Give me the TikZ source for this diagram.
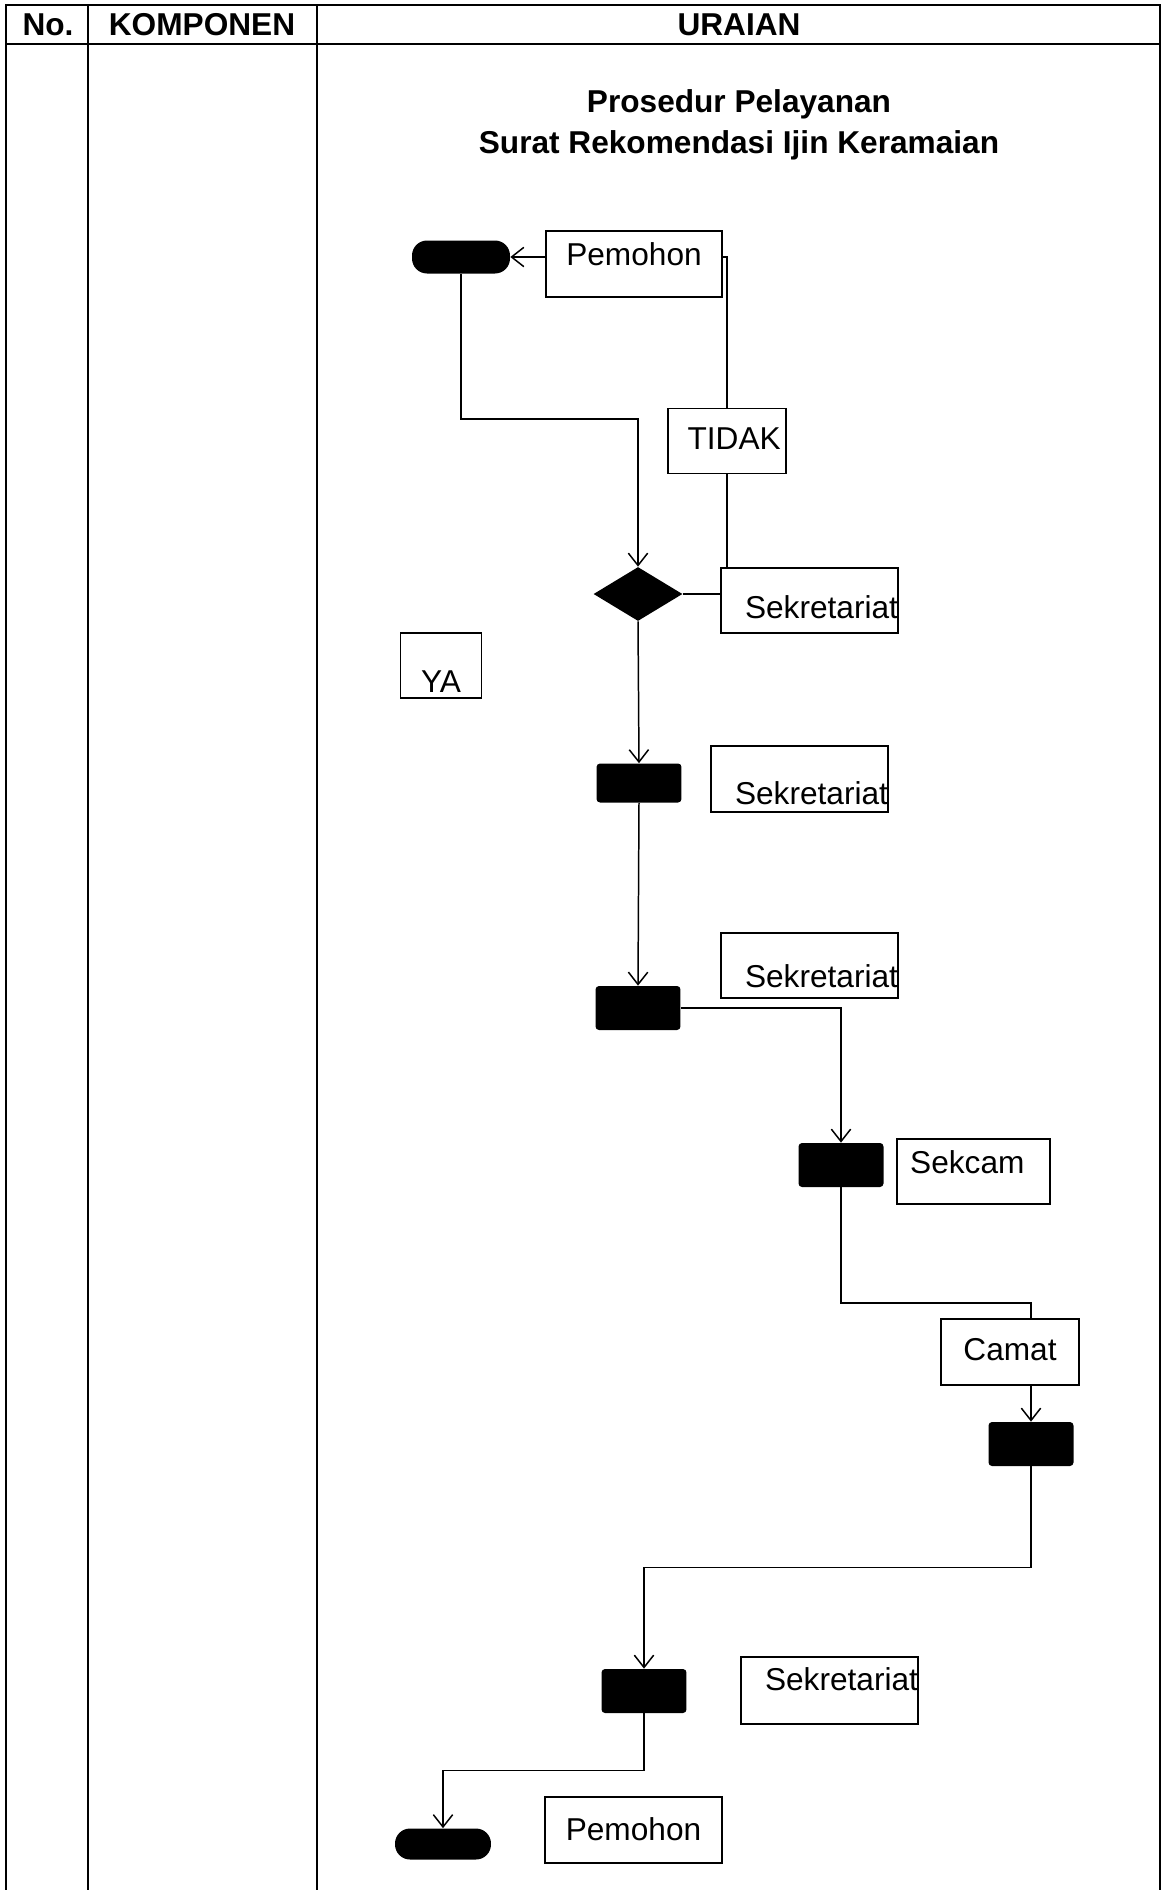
\documentclass[tikz,border=0pt]{standalone}
\usepackage{fontspec}
\setmainfont{Liberation Sans}
\usepackage{tikz}
\usetikzlibrary{positioning,arrows.meta,shapes.geometric,calc}

\tikzset{
    tbl/.style={line width=1.3pt},
    flow/.style={line width=0.85pt},
    role/.style n args={3}{draw,line width=1pt,inner sep=0pt,align=center,
        text width=#1,text height=#2,text depth=#3},
    act/.style={fill=black,rounded corners=2pt,minimum width=1.7cm,minimum height=0.88cm,inner sep=0pt},
    term/.style={fill=black,rounded corners=0.3cm,minimum width=1.96cm,minimum height=0.66cm,inner sep=0pt},
}

\begin{document}
\begin{tikzpicture}[x=0.02cm,y=-0.02cm,>={Straight Barb[length=7pt,width=11pt]},
    font=\fontsize{18}{22}\selectfont]
    \useasboundingbox (0,0) rectangle (1162,1890);

    % tabel
    \draw[tbl] (6,1890) -- (6,5) -- (1160,5) -- (1160,1890);
    \draw[tbl] (6,44) -- (1160,44);
    \draw[tbl] (88,5) -- (88,1890);
    \draw[tbl] (317,5) -- (317,1890);
    \node[anchor=base,font=\fontsize{18}{22}\selectfont\bfseries] (hno) at (48,35) {No.};
    \node[anchor=base,font=\fontsize{18}{22}\selectfont\bfseries] (hkomp) at (202,35) {KOMPONEN};
    \node[anchor=base,font=\fontsize{18}{22}\selectfont\bfseries] (hur) at (739,35) {URAIAN};
    \node[anchor=base,font=\fontsize{18}{22}\selectfont\bfseries] (judul1) at (739,112) {Prosedur Pelayanan};
    \node[anchor=base,font=\fontsize{18}{22}\selectfont\bfseries] (judul2) at (739,153) {Surat Rekomendasi Ijin Keramaian};

    % alur
    \node[term] (start) at (461,257) {};
    \node[role={3.52cm}{.68cm}{.64cm}] (pmh1) at (634,264) {Pemohon};
    \node[role={2.36cm}{.82cm}{.48cm},align=right] (tidak) at (727,441) {TIDAK\kern3pt};
    \node[diamond,fill=black,minimum width=1.78cm,minimum height=1.08cm,inner sep=0pt] (cek) at (638,594) {};
    \node[role={3.54cm}{1.0cm}{.30cm},align=right] (skr1) at (809.5,600.5) {Sekretariat};
    \node[role={1.62cm}{1.18cm}{.12cm}] (ya) at (441,665.5) {YA};
    \node[act,minimum height=0.78cm] (act1) at (639,783) {};
    \node[role={3.54cm}{1.16cm}{.16cm},align=right] (skr2) at (799.5,779) {Sekretariat};
    \node[act] (act2) at (638,1008) {};
    \node[role={3.54cm}{1.08cm}{.22cm},align=right] (skr3) at (809.5,965.5) {Sekretariat};
    \node[act] (act3) at (841,1165) {};
    \node[role={3.06cm}{.68cm}{.62cm}] (skcm) at (973.5,1171.5) {Sekcam\kern7pt};
    \node[role={2.76cm}{.82cm}{.50cm}] (camat) at (1010,1352) {Camat};
    \node[act] (act4) at (1031,1444) {};
    \node[act] (act5) at (644,1691) {};
    \node[role={3.54cm}{.66cm}{.68cm},align=right] (skr4) at (829.5,1690.5) {Sekretariat};
    \node[term,minimum width=1.92cm,minimum height=0.62cm] (finish) at (443,1844) {};
    \node[role={3.54cm}{.86cm}{.46cm}] (pmh2) at (633.5,1830) {Pemohon};

    \coordinate (k1) at (1031,1303);

    \draw[flow,->] (pmh1.west |- start) -- (start.east);
    \draw[flow] (pmh1.east |- start) -| (tidak.north);
    \draw[flow] (tidak.south) -- (tidak.south |- skr1.north);
    \draw[flow] (cek.east) -- (cek.east -| skr1.west);
    \draw[flow,->] (start.south) -- ++(0,145) -| (cek.north);
    \draw[flow,->] (cek.south) -- (act1.north);
    \draw[flow,->] (act1.south) -- (act2.north);
    \draw[flow,->] (act2.east) -| (act3.north);
    \draw[flow] (act3.south) |- (k1) -- (k1 |- camat.north);
    \draw[flow,->] (k1 |- camat.south) -- (act4.north);
    \draw[flow,->] (act4.south) -- ++(0,101) -| (act5.north);
    \draw[flow,->] (act5.south) -- ++(0,57) -| (finish.north);
\end{tikzpicture}
\end{document}
